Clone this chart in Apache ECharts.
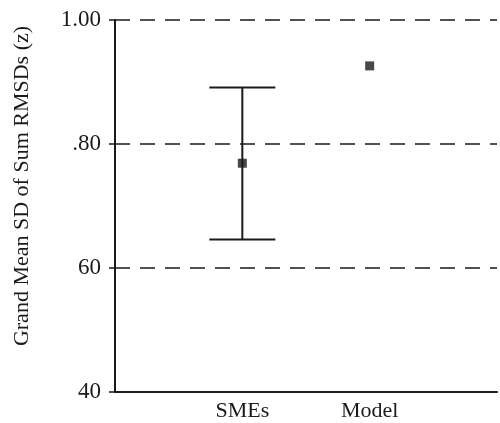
<!DOCTYPE html>
<html>
<head>
<meta charset="utf-8">
<script src="https://cdn.jsdelivr.net/npm/echarts@6/dist/echarts.min.js"></script>
<style>
  html, body { margin: 0; padding: 0; background: #fff; }
  #chart { width: 500px; height: 423px; }
</style>
</head>
<body>
<div id="chart"></div>
<script>
// categories (empty slots pad the axis so the two groups sit where the scan has them)
var categories = ['', 'SMEs', 'Model', ''];
var groups = ['SMEs', 'Model'];
var means = [0.769, 0.926];
var lowerBars = [0.646, null];
var upperBars = [0.891, null];
var yTickLabels = ['40', '60', '.80', '1.00'];

var serif = '"Liberation Serif", "DejaVu Serif", serif';
var ink = '#1a1a1a';

var chart = echarts.init(document.getElementById('chart'));

var pointData = [];
var barData = [];
for (var i = 0; i < groups.length; i++) {
  pointData.push([groups[i], means[i]]);
  if (lowerBars[i] != null) {
    barData.push([groups[i], lowerBars[i], upperBars[i]]);
  }
}

chart.setOption({
  animation: false,
  backgroundColor: '#fff',
  grid: { left: 115, right: 0, top: 20, bottom: 31 },
  xAxis: {
    type: 'category',
    data: categories,
    boundaryGap: false,
    axisLine: { lineStyle: { color: ink, width: 2 } },
    axisTick: { show: false },
    axisLabel: { color: ink, fontFamily: serif, fontSize: 22, margin: 8 },
    splitLine: { show: false }
  },
  yAxis: {
    type: 'value',
    min: 0.4,
    max: 1.0,
    interval: 0.2,
    axisLine: { show: true, lineStyle: { color: ink, width: 2 } },
    axisTick: { show: true, length: 6, lineStyle: { color: ink, width: 1.5 } },
    axisLabel: {
      color: ink, fontFamily: serif, fontSize: 23, margin: 14,
      formatter: function (v) {
        var idx = Math.round((v - 0.4) / 0.2);
        return yTickLabels[idx];
      }
    },
    splitLine: { show: true, lineStyle: { color: ink, width: 1.5, type: [15, 10] } }
  },
  graphic: [{
    type: 'text',
    x: 22,
    y: 186,
    rotation: Math.PI / 2,
    style: {
      text: 'Grand Mean SD of Sum RMSDs (z)',
      fill: ink,
      font: '22px ' + serif,
      align: 'center',
      verticalAlign: 'middle'
    }
  }],
  series: [
    {
      type: 'custom',
      data: barData,
      renderItem: function (params, api) {
        var lo = api.coord([api.value(0), api.value(1)]);
        var hi = api.coord([api.value(0), api.value(2)]);
        var half = 33;
        var style = { stroke: ink, lineWidth: 2 };
        return {
          type: 'group',
          children: [
            { type: 'line', shape: { x1: lo[0], y1: lo[1], x2: hi[0], y2: hi[1] }, style: style },
            { type: 'line', shape: { x1: lo[0] - half, y1: lo[1], x2: lo[0] + half, y2: lo[1] }, style: style },
            { type: 'line', shape: { x1: hi[0] - half, y1: hi[1], x2: hi[0] + half, y2: hi[1] }, style: style }
          ]
        };
      },
      z: 2
    },
    {
      type: 'scatter',
      data: pointData,
      symbol: 'rect',
      symbolSize: 9,
      itemStyle: { color: ink },
      z: 3
    }
  ]
});
</script>
</body>
</html>
